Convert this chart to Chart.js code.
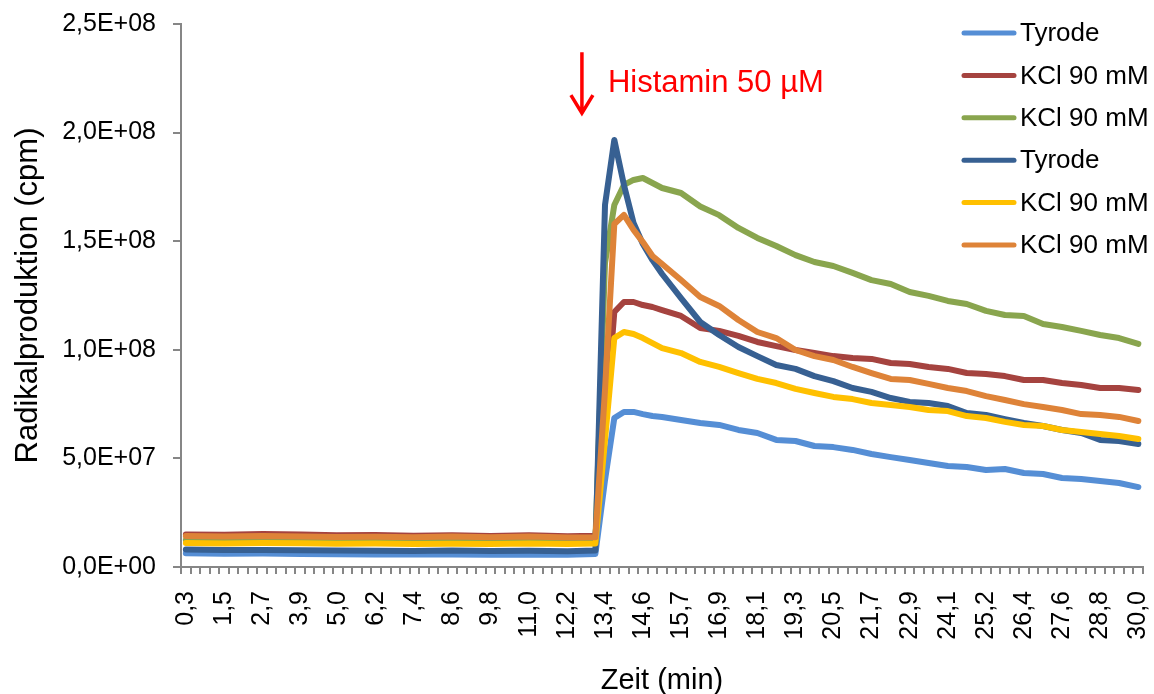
<!DOCTYPE html>
<html>
<head>
<meta charset="utf-8">
<script src="https://cdn.jsdelivr.net/npm/chart.js@4.4.1/dist/chart.umd.min.js"></script>
<style>
  html, body { margin: 0; padding: 0; background: #fff; }
  #wrap { width: 1154px; height: 694px; }
</style>
</head>
<body>
<div id="wrap"><canvas id="chart" width="1154" height="694"></canvas></div>
<script>
// x tick labels (every 4th measurement)
const tickLabels = ['0,3', '1,5', '2,7', '3,9', '5,0', '6,2', '7,4', '8,6', '9,8', '11,0', '12,2', '13,4', '14,6',
  '15,7', '16,9', '18,1', '19,3', '20,5', '21,7', '22,9', '24,1', '25,2', '26,4', '27,6', '28,8', '30,0'];

// time points (min)
const zeit = [0.3, 1.5, 2.7, 3.9, 5.0, 6.2, 7.4, 8.6, 9.8, 11.0, 12.2, 13.07,
  13.37, 13.66, 13.96, 14.26, 14.55, 14.85, 15.15, 15.74, 16.34, 16.93, 17.53, 18.12,
  18.71, 19.31, 19.90, 20.49, 21.09, 21.68, 22.28, 22.87, 23.46, 24.06, 24.65, 25.25,
  25.84, 26.43, 27.03, 27.62, 28.22, 28.81, 29.40, 30.0];

const seriesNames = ['Tyrode', 'KCl 90 mM', 'KCl 90 mM', 'Tyrode', 'KCl 90 mM', 'KCl 90 mM'];

const tyrode1 = [0.063e8, 0.061e8, 0.062e8, 0.060e8, 0.059e8, 0.058e8, 0.057e8, 0.058e8, 0.056e8, 0.058e8, 0.056e8, 0.060e8,
  0.400e8, 0.686e8, 0.714e8, 0.714e8, 0.704e8, 0.695e8, 0.691e8, 0.677e8, 0.663e8, 0.654e8, 0.631e8, 0.617e8,
  0.585e8, 0.580e8, 0.557e8, 0.552e8, 0.539e8, 0.520e8, 0.506e8, 0.493e8, 0.479e8, 0.465e8, 0.460e8, 0.447e8,
  0.451e8, 0.433e8, 0.428e8, 0.410e8, 0.405e8, 0.396e8, 0.387e8, 0.368e8];
const kcl1 = [0.150e8, 0.148e8, 0.152e8, 0.150e8, 0.146e8, 0.147e8, 0.144e8, 0.146e8, 0.143e8, 0.146e8, 0.142e8, 0.144e8,
  0.631e8, 1.174e8, 1.220e8, 1.220e8, 1.206e8, 1.197e8, 1.183e8, 1.156e8, 1.100e8, 1.087e8, 1.064e8, 1.036e8,
  1.017e8, 0.999e8, 0.985e8, 0.971e8, 0.962e8, 0.958e8, 0.939e8, 0.935e8, 0.921e8, 0.912e8, 0.893e8, 0.889e8,
  0.879e8, 0.861e8, 0.861e8, 0.847e8, 0.838e8, 0.824e8, 0.824e8, 0.815e8];
const kcl2 = [0.124e8, 0.122e8, 0.125e8, 0.122e8, 0.120e8, 0.121e8, 0.118e8, 0.119e8, 0.120e8, 0.118e8, 0.119e8, 0.120e8,
  1.400e8, 1.667e8, 1.759e8, 1.782e8, 1.791e8, 1.768e8, 1.745e8, 1.722e8, 1.660e8, 1.620e8, 1.561e8, 1.515e8,
  1.478e8, 1.436e8, 1.404e8, 1.386e8, 1.354e8, 1.321e8, 1.303e8, 1.266e8, 1.248e8, 1.225e8, 1.211e8, 1.179e8,
  1.160e8, 1.156e8, 1.119e8, 1.105e8, 1.087e8, 1.068e8, 1.054e8, 1.027e8];
const tyrode2 = [0.080e8, 0.078e8, 0.078e8, 0.077e8, 0.076e8, 0.075e8, 0.074e8, 0.076e8, 0.074e8, 0.075e8, 0.073e8, 0.076e8,
  1.667e8, 1.966e8, 1.759e8, 1.584e8, 1.487e8, 1.413e8, 1.349e8, 1.238e8, 1.128e8, 1.068e8, 1.013e8, 0.971e8,
  0.930e8, 0.912e8, 0.879e8, 0.856e8, 0.824e8, 0.806e8, 0.778e8, 0.760e8, 0.755e8, 0.741e8, 0.709e8, 0.700e8,
  0.681e8, 0.663e8, 0.649e8, 0.631e8, 0.617e8, 0.585e8, 0.580e8, 0.566e8];
const kcl3 = [0.110e8, 0.108e8, 0.110e8, 0.109e8, 0.107e8, 0.108e8, 0.106e8, 0.107e8, 0.106e8, 0.108e8, 0.106e8, 0.108e8,
  0.585e8, 1.054e8, 1.082e8, 1.073e8, 1.054e8, 1.031e8, 1.008e8, 0.985e8, 0.944e8, 0.921e8, 0.893e8, 0.866e8,
  0.847e8, 0.820e8, 0.801e8, 0.783e8, 0.773e8, 0.755e8, 0.746e8, 0.737e8, 0.723e8, 0.718e8, 0.695e8, 0.686e8,
  0.668e8, 0.654e8, 0.649e8, 0.631e8, 0.622e8, 0.612e8, 0.603e8, 0.589e8];
const kcl4 = [0.143e8, 0.140e8, 0.143e8, 0.140e8, 0.138e8, 0.139e8, 0.137e8, 0.140e8, 0.137e8, 0.140e8, 0.136e8, 0.137e8,
  0.815e8, 1.579e8, 1.621e8, 1.552e8, 1.496e8, 1.432e8, 1.395e8, 1.321e8, 1.243e8, 1.202e8, 1.137e8, 1.082e8,
  1.054e8, 0.999e8, 0.971e8, 0.953e8, 0.921e8, 0.893e8, 0.866e8, 0.861e8, 0.843e8, 0.824e8, 0.810e8, 0.787e8,
  0.769e8, 0.750e8, 0.737e8, 0.723e8, 0.704e8, 0.700e8, 0.691e8, 0.672e8];

const allSeries = [tyrode1, kcl1, kcl2, tyrode2, kcl3, kcl4];
const colors = ['#558ED5', '#A5433F', '#89A54E', '#376092', '#FFC000', '#DE8338'];

// Histamin marker
const histaminZeit = 12.65;
const histaminText = 'Histamin 50 µM';

const STEP = 0.297;      // one measurement interval (min)
const FONT = "'Liberation Sans', Arial, sans-serif";
const AXIS_GREY = '#868686';

function sciLabel(v) {
  if (v === 0) return '0,0E+00';
  const e = Math.floor(Math.log10(v) + 1e-9);
  const m = v / Math.pow(10, e);
  return m.toFixed(1).replace('.', ',') + 'E+' + String(e).padStart(2, '0');
}

const histaminPlugin = {
  id: 'histamin',
  afterDatasetsDraw(chart) {
    const { ctx, scales: { x, y } } = chart;
    const ax = x.getPixelForValue(histaminZeit);
    const top = y.getPixelForValue(2.37e8);
    const tip = y.getPixelForValue(2.09e8);
    ctx.save();
    ctx.strokeStyle = '#FF0000';
    ctx.lineWidth = 3.5;
    ctx.beginPath();
    ctx.moveTo(ax, top);
    ctx.lineTo(ax, tip);
    ctx.moveTo(ax - 11, tip - 18);
    ctx.lineTo(ax, tip);
    ctx.lineTo(ax + 11, tip - 18);
    ctx.stroke();
    ctx.fillStyle = '#FF0000';
    ctx.font = '31px ' + FONT;
    ctx.textBaseline = 'alphabetic';
    ctx.fillText(histaminText, x.getPixelForValue(13.46), y.getPixelForValue(2.187e8));
    ctx.restore();
  }
};

const legendPlugin = {
  id: 'sideLegend',
  afterDraw(chart) {
    const ctx = chart.ctx;
    ctx.save();
    chart.data.datasets.forEach((ds, i) => {
      const yy = 33 + i * 42.4;
      ctx.strokeStyle = ds.borderColor;
      ctx.lineWidth = 5;
      ctx.lineCap = 'round';
      ctx.beginPath();
      ctx.moveTo(964, yy);
      ctx.lineTo(1014, yy);
      ctx.stroke();
      ctx.fillStyle = '#000';
      ctx.font = '26px ' + FONT;
      ctx.textBaseline = 'middle';
      ctx.fillText(ds.label, 1020, yy + 1);
    });
    ctx.restore();
  }
};

const datasets = allSeries.map((vals, i) => ({
  label: seriesNames[i],
  data: zeit.map((t, j) => ({ x: t, y: vals[j] })),
  borderColor: colors[i],
  backgroundColor: colors[i],
  borderWidth: 6,
  pointRadius: 0,
  tension: 0,
  borderJoinStyle: 'round',
  borderCapStyle: 'round',
  order: allSeries.length - i
}));

new Chart(document.getElementById('chart'), {
  type: 'line',
  data: { datasets: datasets },
  options: {
    responsive: false,
    animation: false,
    devicePixelRatio: 1,
    layout: { padding: { top: 24, right: 11, left: 0, bottom: 0 } },
    plugins: {
      legend: { display: false },
      tooltip: { enabled: false }
    },
    scales: {
      x: {
        type: 'linear',
        min: STEP / 2,
        max: 101.5 * STEP,
        afterBuildTicks: (scale) => {
          const ticks = [];
          for (let k = 0; k <= 101; k++) ticks.push({ value: STEP / 2 + k * STEP });
          scale.ticks = ticks;
        },
        afterFit: (scale) => {
          scale.height = 127;
          scale.paddingLeft = 0;
          scale.paddingRight = 0;
        },
        ticks: {
          autoSkip: false,
          minRotation: 90,
          maxRotation: 90,
          labelOffset: 4.8,
          padding: 17,
          color: '#000',
          font: { family: FONT, size: 25 },
          callback: (v, i) => (i % 4 === 0 && i / 4 < tickLabels.length) ? tickLabels[i / 4] : ''
        },
        grid: { drawOnChartArea: false, drawTicks: true, tickLength: 7, color: AXIS_GREY, lineWidth: 2 },
        border: { color: AXIS_GREY, width: 2 },
        title: {
          display: true,
          text: 'Zeit (min)',
          color: '#000',
          font: { family: FONT, size: 29 },
          padding: { top: 0, bottom: -4 }
        }
      },
      y: {
        min: 0,
        max: 2.5e8,
        afterFit: (scale) => {
          scale.width = 181;
          scale.paddingTop = 0;
          scale.paddingBottom = 0;
        },
        ticks: {
          stepSize: 5e7,
          padding: 17,
          color: '#000',
          font: { family: FONT, size: 25 },
          callback: (v) => sciLabel(v)
        },
        grid: { drawOnChartArea: false, drawTicks: true, tickLength: 8, color: AXIS_GREY, lineWidth: 2 },
        border: { color: AXIS_GREY, width: 2 },
        title: {
          display: true,
          text: 'Radikalproduktion (cpm)',
          color: '#000',
          font: { family: FONT, size: 31 },
          padding: { top: 10, bottom: 0 }
        }
      }
    }
  },
  plugins: [histaminPlugin, legendPlugin]
});
</script>
</body>
</html>
